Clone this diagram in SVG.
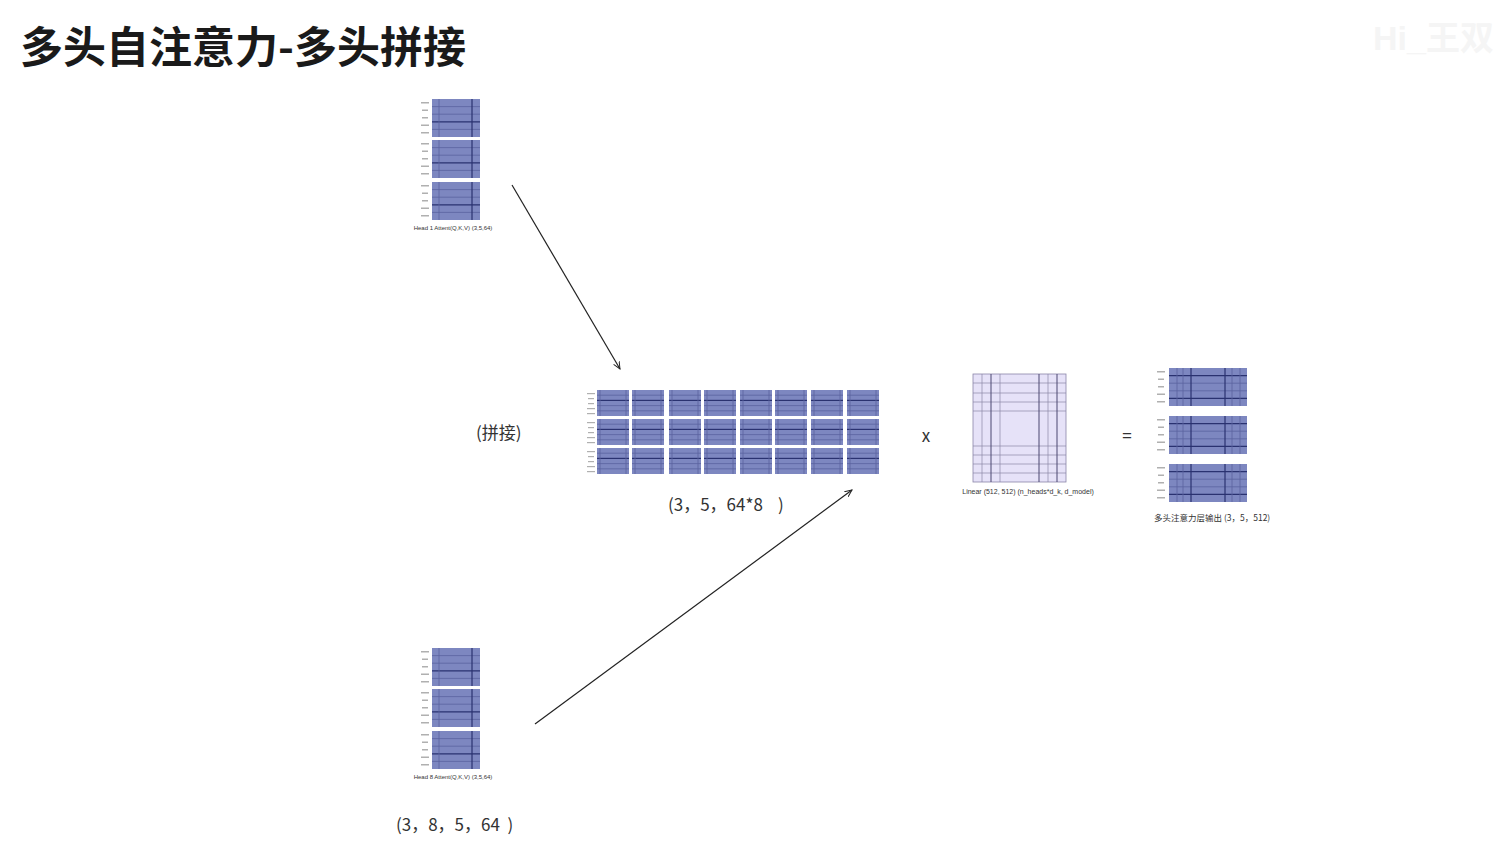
<svg xmlns="http://www.w3.org/2000/svg" xmlns:xlink="http://www.w3.org/1999/xlink" width="1502" height="845" viewBox="0 0 1502 845">
<style>
.title{font-family:"Noto Sans CJK SC","Noto Sans",sans-serif;font-weight:700;font-size:43px;fill:#1a1a1a}
.cap{font-family:"Liberation Sans","Noto Sans CJK SC",sans-serif;font-size:6px;fill:#333}
.lbl{font-family:"Noto Sans CJK SC","Liberation Sans",sans-serif;font-size:17px;fill:#333;white-space:pre}
.mfill{fill:#7d87c0}
.ln{stroke:#5a63a0;stroke-width:0.8}
.dk{stroke:#2a3270;stroke-width:1.2}
.tag{fill:#b0b0b0}
.conn{stroke:#222;stroke-width:1.2;fill:none}
.wm{font-family:"Liberation Sans","Noto Sans CJK SC",sans-serif;font-size:34px;fill:#f5f5f5;font-weight:700}
</style>
<defs>
<marker id="ah" viewBox="0 0 10 10" refX="9" refY="5" markerWidth="8" markerHeight="8" orient="auto" markerUnits="userSpaceOnUse">
<path d="M0,1 L9,5 L0,9" fill="none" stroke="#222" stroke-width="1.2"/>
</marker>
<g id="headblk">
<rect x="14" y="0" width="48" height="38" class="mfill"/>
<line x1="14" y1="7.6" x2="62" y2="7.6" class="ln"/>
<line x1="14" y1="15.2" x2="62" y2="15.2" class="ln"/>
<line x1="14" y1="22.8" x2="62" y2="22.8" class="dk"/>
<line x1="14" y1="30.4" x2="62" y2="30.4" class="ln"/>
<line x1="21" y1="0" x2="21" y2="38" class="ln"/>
<line x1="54" y1="0" x2="54" y2="38" class="dk"/>
<rect x="3" y="3" width="8" height="1.5" class="tag"/>
<rect x="4" y="10.5" width="6" height="1.5" class="tag"/>
<rect x="4" y="18" width="6" height="1.5" class="tag"/>
<rect x="3" y="25.5" width="8" height="1.5" class="tag"/>
<rect x="3" y="33" width="8" height="1.5" class="tag"/>
</g>
<g id="cell">
<rect x="0" y="0" width="32" height="26" class="mfill"/>
<line x1="0" y1="5.2" x2="32" y2="5.2" class="ln"/>
<line x1="0" y1="10.4" x2="32" y2="10.4" class="dk"/>
<line x1="0" y1="15.6" x2="32" y2="15.6" class="ln"/>
<line x1="0" y1="20.8" x2="32" y2="20.8" class="ln"/>
<line x1="3" y1="0" x2="3" y2="26" class="ln"/>
<line x1="29" y1="0" x2="29" y2="26" class="ln"/>
</g>
<g id="ctag">
<rect x="0" y="3" width="8" height="1.2" class="tag"/>
<rect x="1" y="8" width="6" height="1.2" class="tag"/>
<rect x="1" y="13" width="6" height="1.2" class="tag"/>
<rect x="0" y="18" width="8" height="1.2" class="tag"/>
<rect x="0" y="23" width="8" height="1.2" class="tag"/>
</g>
<g id="outblk">
<rect x="14" y="0" width="78" height="38" class="mfill"/>
<line x1="14" y1="7.6" x2="92" y2="7.6" class="dk"/>
<line x1="14" y1="15.2" x2="92" y2="15.2" class="ln"/>
<line x1="14" y1="22.8" x2="92" y2="22.8" class="ln"/>
<line x1="14" y1="30.4" x2="92" y2="30.4" class="dk"/>
<line x1="22" y1="0" x2="22" y2="38" class="ln"/>
<line x1="28" y1="0" x2="28" y2="38" class="ln"/>
<line x1="36" y1="0" x2="36" y2="38" class="dk"/>
<line x1="70" y1="0" x2="70" y2="38" class="dk"/>
<line x1="77" y1="0" x2="77" y2="38" class="ln"/>
<line x1="85" y1="0" x2="85" y2="38" class="ln"/>
<rect x="2" y="3" width="8" height="1.5" class="tag"/>
<rect x="3" y="10.5" width="6" height="1.5" class="tag"/>
<rect x="3" y="18" width="6" height="1.5" class="tag"/>
<rect x="2" y="25.5" width="8" height="1.5" class="tag"/>
<rect x="2" y="33" width="8" height="1.5" class="tag"/>
</g>
</defs>
<rect width="1502" height="845" fill="#ffffff"/>
<text x="20" y="63" class="title">多头自注意力-多头拼接</text>
<text x="1373" y="50" class="wm">Hi_王双</text>

<g id="head1">
<use xlink:href="#headblk" x="418" y="99"/>
<use xlink:href="#headblk" x="418" y="140"/>
<use xlink:href="#headblk" x="418" y="182"/>
<text x="453" y="230" class="cap" text-anchor="middle">Head 1 Attent(Q,K,V) (3,5,64)</text>
</g>

<g id="head8">
<use xlink:href="#headblk" x="418" y="648"/>
<use xlink:href="#headblk" x="418" y="689"/>
<use xlink:href="#headblk" x="418" y="731"/>
<text x="453" y="779" class="cap" text-anchor="middle">Head 8 Attent(Q,K,V) (3,5,64)</text>
<text x="396" y="831" class="lbl" xml:space="preserve">(3，8，5，64  )</text>
</g>

<g id="concat">
<text x="476" y="439" class="lbl">(拼接)</text>
<use xlink:href="#ctag" x="587" y="390"/>
<use xlink:href="#ctag" x="587" y="419"/>
<use xlink:href="#ctag" x="587" y="448"/>
<use xlink:href="#cell" x="597" y="390"/><use xlink:href="#cell" x="632" y="390"/><use xlink:href="#cell" x="669" y="390"/><use xlink:href="#cell" x="704" y="390"/><use xlink:href="#cell" x="740" y="390"/><use xlink:href="#cell" x="775" y="390"/><use xlink:href="#cell" x="811" y="390"/><use xlink:href="#cell" x="847" y="390"/>
<use xlink:href="#cell" x="597" y="419"/><use xlink:href="#cell" x="632" y="419"/><use xlink:href="#cell" x="669" y="419"/><use xlink:href="#cell" x="704" y="419"/><use xlink:href="#cell" x="740" y="419"/><use xlink:href="#cell" x="775" y="419"/><use xlink:href="#cell" x="811" y="419"/><use xlink:href="#cell" x="847" y="419"/>
<use xlink:href="#cell" x="597" y="448"/><use xlink:href="#cell" x="632" y="448"/><use xlink:href="#cell" x="669" y="448"/><use xlink:href="#cell" x="704" y="448"/><use xlink:href="#cell" x="740" y="448"/><use xlink:href="#cell" x="775" y="448"/><use xlink:href="#cell" x="811" y="448"/><use xlink:href="#cell" x="847" y="448"/>
<text x="668" y="511" class="lbl" xml:space="preserve">(3，5，64*8    )</text>
</g>

<g id="times">
<text x="926" y="442" class="lbl" text-anchor="middle">x</text>
</g>

<g id="linear">
<rect x="973" y="374" width="93" height="108" fill="#e6e2f8" stroke="#8a86a8" stroke-width="0.8"/>
<g stroke="#8a86a8" stroke-width="0.7">
<line x1="973" y1="383" x2="1066" y2="383"/>
<line x1="973" y1="393" x2="1066" y2="393"/>
<line x1="973" y1="402" x2="1066" y2="402"/>
<line x1="973" y1="411" x2="1066" y2="411"/>
<line x1="973" y1="446" x2="1066" y2="446"/>
<line x1="973" y1="455" x2="1066" y2="455"/>
<line x1="973" y1="464" x2="1066" y2="464"/>
<line x1="973" y1="473" x2="1066" y2="473"/>
<line x1="982" y1="374" x2="982" y2="482"/>
<line x1="1000" y1="374" x2="1000" y2="482"/>
<line x1="1048" y1="374" x2="1048" y2="482"/>
</g>
<g stroke="#4a4670" stroke-width="1">
<line x1="991" y1="374" x2="991" y2="482"/>
<line x1="1039" y1="374" x2="1039" y2="482"/>
<line x1="1057" y1="374" x2="1057" y2="482"/>
</g>
<text x="1028" y="494" class="cap" text-anchor="middle" style="font-size:7px">Linear (512, 512) (n_heads*d_k, d_model)</text>
</g>

<g id="equals">
<text x="1127" y="442" class="lbl" text-anchor="middle">=</text>
</g>

<g id="output">
<use xlink:href="#outblk" x="1155" y="368"/>
<use xlink:href="#outblk" x="1155" y="416"/>
<use xlink:href="#outblk" x="1155" y="464"/>
<text x="1154" y="521" class="cap" style="font-family:'Noto Sans CJK SC',sans-serif;font-size:8.5px">多头注意力层输出 (3，5，512)</text>
</g>

<g id="connectors">
<line x1="512" y1="185" x2="620" y2="369" class="conn" marker-end="url(#ah)"/>
<line x1="535" y1="724" x2="852" y2="490" class="conn" marker-end="url(#ah)"/>
</g>
</svg>
